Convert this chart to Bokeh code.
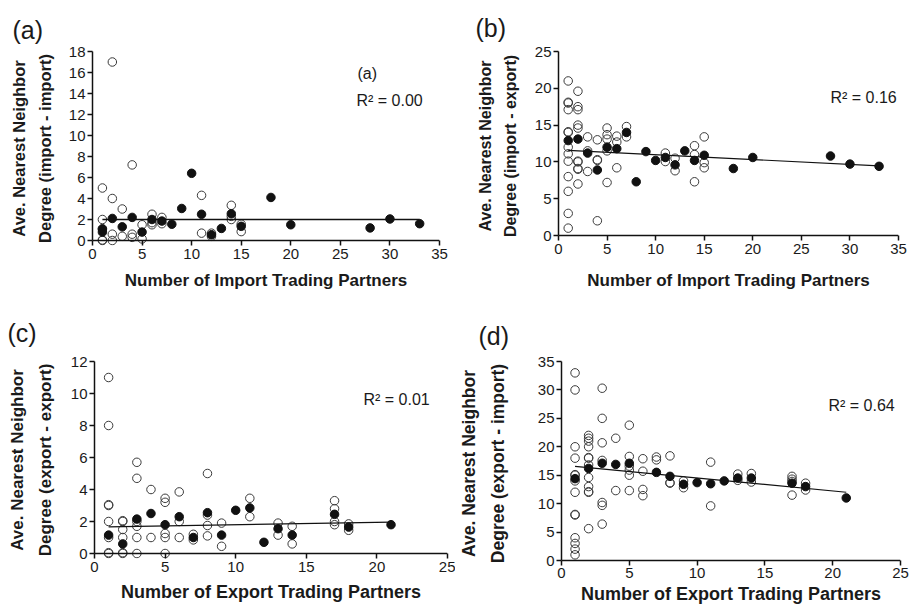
import numpy as np
from bokeh.plotting import figure
from bokeh.models import FixedTicker, Span
from bokeh.core.properties import value
from bokeh.layouts import column, row
from bokeh.embed import file_html
from bokeh.resources import INLINE

FONT = "Liberation Sans"
TXT = "#1a1a1a"

# ---------------- data ----------------
# (a) import - import vs number of import partners
a_open_x = [1, 1, 1, 1, 1, 2, 2, 2, 2, 3, 3, 4, 4, 4, 5, 5, 6, 6, 6, 7, 7, 11, 11, 12, 12, 14, 14, 14, 15, 15]
a_open_y = [5.0, 2.0, 1.1, 0.0, 0.05, 17.0, 4.0, 0.6, 0.0, 3.0, 0.4, 7.2, 0.6, 0.3, 1.5, 0.15, 2.5, 1.7, 1.5,
            2.2, 1.6, 4.3, 0.7, 0.7, 0.4, 3.35, 2.3, 2.0, 1.55, 0.85]
a_fill_x = [1, 1, 2, 3, 4, 5, 6, 7, 8, 9, 10, 11, 12, 13, 14, 15, 18, 20, 28, 30, 33]
a_fill_y = [1.1, 0.8, 2.1, 1.3, 2.2, 0.8, 2.0, 1.85, 1.55, 3.05, 6.4, 2.5, 0.55, 1.15, 2.55, 1.35, 4.1, 1.5,
            1.2, 2.05, 1.6]
a_fit = [0.0, 2.0]          # slope, intercept
a_r2 = "R\u00b2 = 0.00"

# (b) import - export vs number of import partners
b_open_x = [1, 1, 1, 1, 1, 1, 1, 1, 1, 1, 1, 1, 1,
            2, 2, 2, 2, 2, 2, 2, 2, 2, 2,
            3, 3, 3, 4, 4, 4, 4, 5, 5, 5, 5, 5, 6, 6, 6, 7, 7,
            11, 11, 12, 12, 14, 14, 14, 15, 15, 15]
b_open_y = [21.0, 18.1, 18.0, 17.1, 14.1, 14.0, 12.0, 11.1, 10.1, 8.0, 6.0, 3.0, 1.0,
            19.6, 17.5, 17.1, 15.0, 14.6, 10.1, 10.0, 9.1, 9.0, 7.0,
            13.4, 11.5, 8.7, 13.0, 10.3, 10.2, 2.0, 14.6, 13.7, 13.1, 11.5, 7.2, 13.5, 12.7, 9.2, 14.8, 13.4,
            11.2, 10.05, 10.5, 8.8, 12.2, 11.0, 7.3, 13.4, 9.9, 9.2]
b_fill_x = [1, 2, 3, 4, 5, 6, 7, 8, 9, 10, 11, 12, 13, 14, 15, 18, 20, 28, 30, 33]
b_fill_y = [12.9, 13.1, 11.2, 8.9, 12.0, 11.8, 14.0, 7.3, 11.4, 10.2, 10.6, 9.6, 11.5, 10.2, 10.9, 9.1, 10.6,
            10.8, 9.7, 9.4]
b_fit = [-0.066, 11.64]
b_r2 = "R\u00b2 = 0.16"

# (c) export - export vs number of export partners
c_open_x = [1, 1, 1, 1, 1, 1, 1, 1, 2, 2, 2, 2, 2, 2, 3, 3, 3, 3, 3, 3, 4, 4, 5, 5, 5, 5, 5, 6, 6, 6, 7, 7,
            8, 8, 8, 8, 9, 9, 11, 11, 13, 13, 14, 14, 17, 17, 17, 17, 18, 18]
c_open_y = [11.0, 8.0, 3.0, 3.05, 2.0, 1.0, 0.0, 0.05, 2.0, 2.05, 1.5, 1.0, 0.0, 0.05, 5.7, 4.7, 2.0, 1.7, 1.0, 0.0,
            4.0, 1.0, 3.45, 3.2, 1.25, 1.0, 0.0, 3.85, 2.0, 1.0, 1.2, 0.85,
            5.0, 2.4, 1.75, 1.1, 1.9, 0.45, 3.45, 2.3, 1.9, 1.15, 1.7, 0.6, 3.3, 2.8, 2.0, 1.8, 1.85, 1.45]
c_fill_x = [1, 2, 3, 4, 5, 6, 7, 8, 9, 10, 11, 12, 13, 14, 17, 18, 21]
c_fill_y = [1.15, 0.6, 2.15, 2.5, 1.8, 2.3, 1.0, 2.55, 1.15, 2.7, 2.85, 0.7, 1.55, 1.15, 2.45, 1.65, 1.8]
c_fit = [0.015, 1.65]
c_r2 = "R\u00b2 = 0.01"

# (d) export - import vs number of export partners
d_open_x = [1, 1, 1, 1, 1, 1, 1, 1, 1, 1, 1, 1, 1, 1,
            2, 2, 2, 2, 2, 2, 2, 2, 2, 2, 2, 2,
            3, 3, 3, 3, 3, 3, 3, 4, 4, 5, 5, 5, 5, 5, 5, 6, 6, 6, 6, 7, 7, 8, 8, 8,
            9, 9, 11, 11, 13, 13, 14, 14, 17, 17, 17, 17, 18, 18]
d_open_y = [33.0, 30.0, 20.0, 18.0, 15.0, 15.1, 14.0, 12.0, 8.0, 8.1, 4.0, 3.0, 2.0, 1.0,
            22.0, 21.5, 21.0, 20.0, 18.0, 18.1, 16.8, 14.6, 13.0, 12.0, 12.1, 5.6,
            30.3, 25.0, 20.7, 17.6, 10.2, 9.7, 6.4, 21.5, 12.3, 23.8, 18.3, 16.6, 15.9, 15.0, 12.3,
            17.9, 15.7, 12.5, 11.4, 18.2, 17.7, 18.4, 13.6, 13.7,
            14.0, 12.8, 17.3, 9.6, 15.2, 14.1, 15.3, 13.8, 14.8, 14.3, 13.9, 11.5, 13.6, 12.4]
d_fill_x = [1, 2, 3, 4, 5, 7, 8, 9, 10, 11, 12, 13, 14, 17, 18, 21]
d_fill_y = [14.4, 16.2, 17.1, 16.9, 17.1, 15.5, 14.8, 13.4, 13.7, 13.5, 14.0, 14.5, 14.5, 13.6, 13.0, 11.0]
d_fit = [-0.2275, 16.78]
d_r2 = "R\u00b2 = 0.64"

x_label_import = "Number of Import Trading Partners"
x_label_export = "Number of Export Trading Partners"
y_label_line1 = "Ave. Nearest Neighbor"
y_label_a = "Degree (import - import)"
y_label_b = "Degree (import - export)"
y_label_c = "Degree (export - export)"
y_label_d = "Degree (export - import)"

a_x_ticks = [0, 5, 10, 15, 20, 25, 30, 35]
a_y_ticks = [0, 2, 4, 6, 8, 10, 12, 14, 16, 18]
b_x_ticks = [0, 5, 10, 15, 20, 25, 30, 35]
b_y_ticks = [0, 5, 10, 15, 20, 25]
c_x_ticks = [0, 5, 10, 15, 20, 25]
c_y_ticks = [0, 2, 4, 6, 8, 10, 12]
d_x_ticks = [0, 5, 10, 15, 20, 25]
d_y_ticks = [0, 5, 10, 15, 20, 25, 30, 35]

# ---------------- layout (page pixel geometry) ----------------
PAD = 5        # px of frame below the zero line (x-axis ticks fill it), so points on zero are not clipped
TITLE_H = 36   # room kept for the 25px panel letter (with slack)
layout = {
    "a": dict(fig=(0, 0, 455, 300), ax=(92, 439, 48, 237), title_x=12,
              r2=(356, 97), inner=(357, 70), yfs=16.5, xfs=17, y_so=12, x_tso=3, x_so=9),
    "b": dict(fig=(455, 0, 455, 300), ax=(558, 898, 51, 235), title_x=475,
              r2=(830, 97), inner=None, yfs=16, xfs=17, y_so=13, x_tso=3, x_so=14),
    "c": dict(fig=(0, 300, 455, 306), ax=(94, 447, 361, 553), title_x=7,
              r2=(363, 399), inner=None, yfs=17, xfs=18, y_so=13, x_tso=3, x_so=7),
    "d": dict(fig=(455, 300, 455, 306), ax=(561, 900, 355, 554), title_x=478,
              r2=(828, 399), inner=None, yfs=17.5, xfs=18, y_so=27, x_tso=2, x_so=3),
}


def make_panel(key, ox, oy, fx, fy, fit, r2, xticks, yticks, xlabel, ylabel2):
    L = layout[key]
    fx0, fy0, W, H = L["fig"]
    x0, x1, yt, yb = L["ax"]
    xmax, ymax = xticks[-1], yticks[-1]
    axis_h = yb - yt
    ymin = -ymax * PAD / axis_h
    frame_bottom = yb + PAD
    top_border = yt - fy0
    p = figure(frame_width=x1 - x0, frame_height=frame_bottom - yt,
               x_range=(0, xmax), y_range=(ymin, ymax),
               output_backend="svg", toolbar_location=None,
               min_border_left=x0 - fx0, min_border_right=fx0 + W - x1,
               min_border_top=top_border, min_border_bottom=fy0 + H - frame_bottom)
    p.outline_line_color = None
    p.xgrid.visible = False
    p.ygrid.visible = False

    # panel letter as title, left of the frame
    p.title.text = f"({key})"
    p.title.text_font = FONT
    p.title.text_font_size = "25px"
    p.title.text_font_style = "normal"
    p.title.text_color = TXT
    p.title.align = "left"
    p.title.vertical_align = "top"
    p.title.offset = L["title_x"] - x0
    p.title.standoff = top_border - TITLE_H

    for ax in (p.xaxis[0], p.yaxis[0]):
        ax.axis_line_color = "#111111"
        ax.axis_line_width = 1.5
        ax.major_tick_line_color = "#111111"
        ax.major_tick_line_width = 1.5
        ax.major_tick_out = 5
        ax.major_tick_in = 0
        ax.minor_tick_out = 0
        ax.minor_tick_in = 0
        ax.major_label_text_font = FONT
        ax.major_label_text_font_size = "15px"
        ax.major_label_text_color = TXT
        ax.axis_label_text_font = FONT
        ax.axis_label_text_font_style = "bold"
        ax.axis_label_text_color = TXT
    p.xaxis.ticker = FixedTicker(ticks=xticks)
    p.yaxis.ticker = FixedTicker(ticks=yticks)
    # x-axis: the line is drawn at y = 0 (Span); ticks fill the PAD strip below it
    p.xaxis.axis_line_color = None
    p.xaxis.major_tick_out = 0
    p.xaxis.major_tick_in = PAD
    p.xaxis.major_label_standoff = L["x_tso"]
    p.xaxis.axis_label = xlabel
    p.xaxis.axis_label_text_font_size = f"{L['xfs']}px"
    p.xaxis.axis_label_standoff = L["x_so"]
    p.yaxis.major_label_standoff = 2
    p.yaxis.bounds = (0, ymax)
    p.yaxis.axis_label = y_label_line1 + "\n" + ylabel2
    p.yaxis.axis_label_text_font_size = f"{L['yfs']}px"
    p.yaxis.axis_label_text_line_height = 1.45
    p.yaxis.axis_label_standoff = L["y_so"]
    p.add_layout(Span(location=0, dimension="width", line_color="#111111", line_width=1.5))

    # open circles
    p.scatter(ox, oy, size=8.5, marker="circle", fill_alpha=0, line_color="#3a3a3a", line_width=1)
    # regression line
    xs = np.array([min(fx), max(fx)], dtype=float)
    ys = fit[1] + fit[0] * xs
    p.line(xs, ys, line_color="#111111", line_width=1.5 if key == "a" else 1.2)
    # filled circles
    p.scatter(fx, fy, size=8.5, marker="circle", fill_color="#111111", line_color="#111111", line_width=1)

    # texts inside the frame (page pixel position -> data position), drawn as text glyphs
    def to_data(px, py):
        dx = (px - x0) / (x1 - x0) * xmax
        dy = (yb - py) / axis_h * ymax
        return dx, dy

    texts = [(r2, L["r2"])]
    if L["inner"] is not None:
        texts.append((f"({key})", L["inner"]))
    tx, ty, tt = [], [], []
    for t, pos in texts:
        dx, dy = to_data(*pos)
        tx.append(dx)
        ty.append(dy)
        tt.append(t)
    p.text(x=tx, y=ty, text=tt, text_font=value(FONT), text_font_size=value("16px"),
           text_color=TXT, text_align="left", text_baseline="middle")
    return p


pa = make_panel("a", a_open_x, a_open_y, a_fill_x, a_fill_y, a_fit, a_r2, a_x_ticks, a_y_ticks,
                x_label_import, y_label_a)
pb = make_panel("b", b_open_x, b_open_y, b_fill_x, b_fill_y, b_fit, b_r2, b_x_ticks, b_y_ticks,
                x_label_import, y_label_b)
pc = make_panel("c", c_open_x, c_open_y, c_fill_x, c_fill_y, c_fit, c_r2, c_x_ticks, c_y_ticks,
                x_label_export, y_label_c)
pd = make_panel("d", d_open_x, d_open_y, d_fill_x, d_fill_y, d_fit, d_r2, d_x_ticks, d_y_ticks,
                x_label_export, y_label_d)

page = column(row(pa, pb), row(pc, pd))
open("out.html", "w").write(file_html(page, INLINE))
